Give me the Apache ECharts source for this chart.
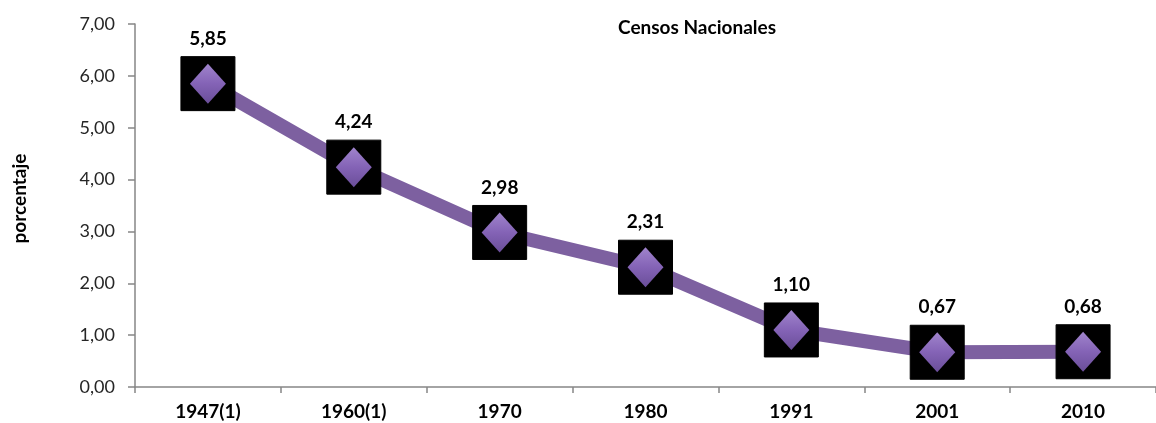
<!DOCTYPE html>
<html>
<head>
<meta charset="utf-8">
<script src="https://cdn.jsdelivr.net/npm/echarts@6/dist/echarts.min.js"></script>
<style>
  html, body { margin: 0; padding: 0; background: #fff; }
  #chart { width: 1156px; height: 423px; }
</style>
</head>
<body>
<div id="chart"></div>
<script>
const categories = ['1947(1)', '1960(1)', '1970', '1980', '1991', '2001', '2010'];
const values = [5.85, 4.24, 2.98, 2.31, 1.10, 0.67, 0.68];
const yTicks = [0, 1, 2, 3, 4, 5, 6, 7];

const fmt = v => v.toFixed(2).replace('.', ',');
const FONT = 'Lato';

const chart = echarts.init(document.getElementById('chart'));

const option = {
    animation: false,
    backgroundColor: '#fff',
    title: {
        text: 'Censos Nacionales',
        left: 692,
        top: 13,
        textAlign: 'center',
        textStyle: { fontFamily: FONT, fontSize: 19, fontWeight: 'bold', color: '#000' }
    },
    grid: { left: 135, top: 24, right: -14, bottom: 36 },
    xAxis: {
        type: 'category',
        data: categories,
        boundaryGap: true,
        axisLine: { lineStyle: { color: '#868686', width: 1.5 } },
        axisTick: { show: true, length: 6, lineStyle: { color: '#868686', width: 1.5 } },
        axisLabel: { fontFamily: FONT, fontSize: 19, fontWeight: 'bold', color: '#000', margin: 15 }
    },
    yAxis: {
        type: 'value',
        min: yTicks[0],
        max: yTicks[yTicks.length - 1],
        interval: 1,
        name: 'porcentaje',
        nameLocation: 'middle',
        nameGap: 106,
        nameRotate: 90,
        nameTextStyle: { fontFamily: FONT, fontSize: 19, fontWeight: 'bold', color: '#000', padding: [0, 0, 0, 14] },
        axisLine: { show: true, lineStyle: { color: '#868686', width: 1.5 } },
        axisTick: { show: true, length: 7, lineStyle: { color: '#868686', width: 1.5 } },
        splitLine: { show: false },
        axisLabel: {
            fontFamily: FONT, fontSize: 18, color: '#262626', margin: 20,
            formatter: v => fmt(v)
        }
    },
    series: [
        {
            type: 'line',
            data: values,
            symbol: 'rect',
            symbolSize: 54,
            itemStyle: { color: '#000', borderColor: '#000', borderWidth: 1 },
            lineStyle: { color: '#7D60A0', width: 14 },
            label: {
                show: true,
                position: 'top',
                distance: 8,
                formatter: p => fmt(p.value),
                fontFamily: FONT, fontSize: 19, fontWeight: 'bold', color: '#000'
            },
            z: 2
        },
        {
            type: 'line',
            data: values,
            symbol: 'diamond',
            symbolSize: [36, 40],
            lineStyle: { width: 0, opacity: 0 },
            itemStyle: {
                borderWidth: 0,
                color: new echarts.graphic.LinearGradient(0, 0, 0, 1, [
                    { offset: 0, color: '#A084CC' },
                    { offset: 0.5, color: '#8463B6' },
                    { offset: 1, color: '#6A4E99' }
                ])
            },
            label: { show: false },
            z: 3
        }
    ]
};

chart.setOption(option);
</script>
</body>
</html>
